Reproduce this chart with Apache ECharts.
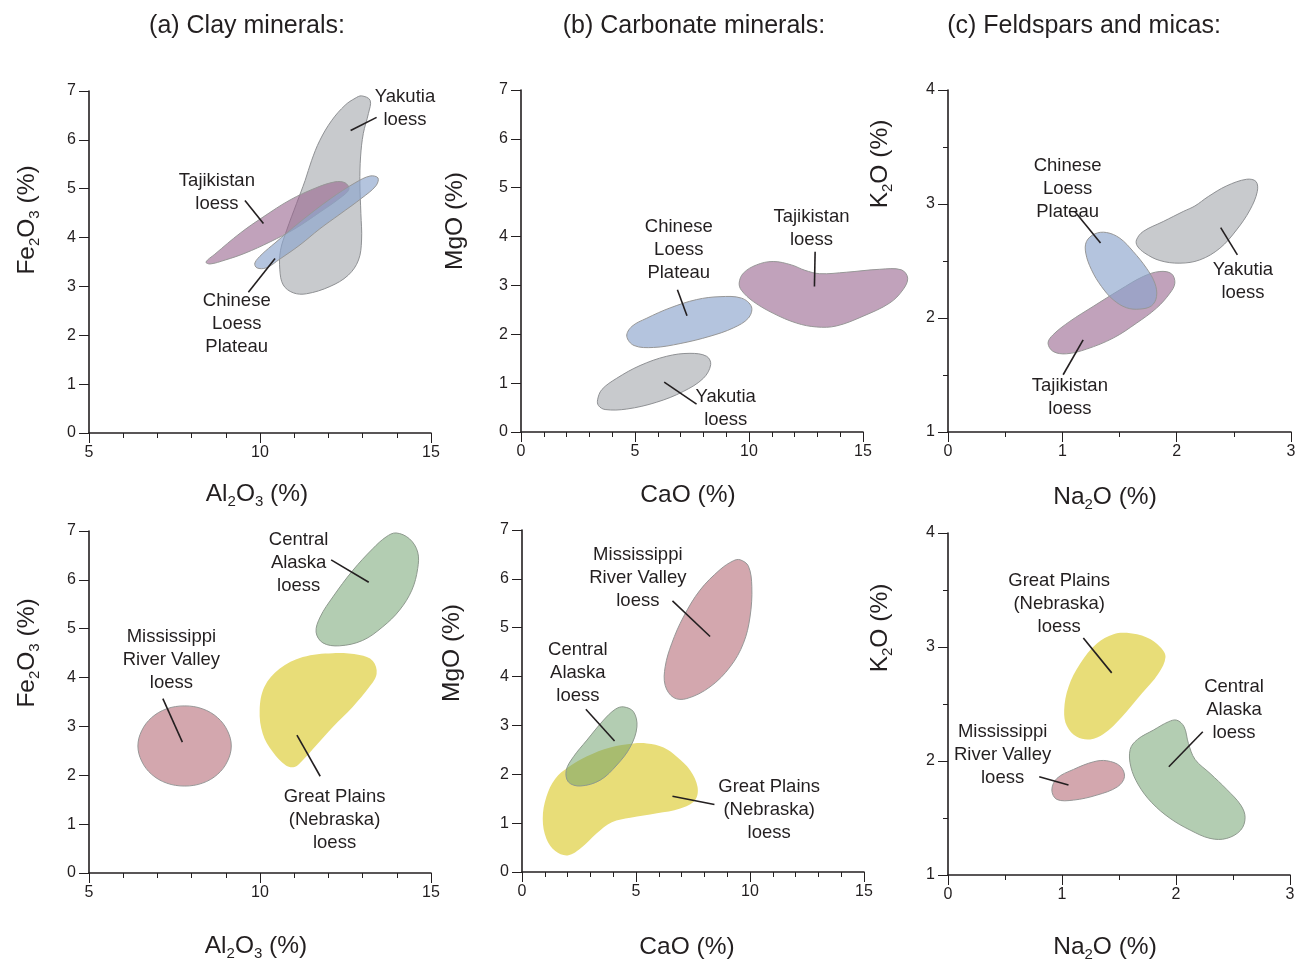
<!DOCTYPE html>
<html>
<head>
<meta charset="utf-8">
<script src="https://cdn.jsdelivr.net/npm/echarts@6/dist/echarts.min.js"></script>
<style>
  html, body { margin: 0; padding: 0; background: #fff; }
  #chart { width: 1297px; height: 962px; }
</style>
</head>
<body>
<div id="chart"></div>
<script>
// Axis ranges: [min, max, interval, minor splits]
const al2o3Axis = [5, 15, 5, 5];
const caoAxis = [0, 15, 5, 5];
const na2oAxis = [0, 3, 1, 2];
const fe2o3Axis = [0, 7, 1, 0];
const mgoAxis = [0, 7, 1, 0];
const k2oAxis = [1, 4, 1, 2];

const panelTitles = ['(a) Clay minerals:', '(b) Carbonate minerals:', '(c) Feldspars and micas:'];

// ---- Asian loess fields (outline points, [x, y] in wt %) ----
// (a) Al2O3 vs Fe2O3
const clayYakutia = [[12.97,6.90],[13.22,6.81],[13.17,6.54],[13.02,6.13],[12.94,5.65],[12.92,5.11],[12.95,4.49],[12.97,3.95],[12.88,3.54],[12.58,3.23],[12.05,3.00],[11.36,2.85],[10.97,2.87],[10.68,3.03],[10.58,3.34],[10.60,3.74],[10.78,4.15],[11.07,4.70],[11.32,5.17],[11.51,5.58],[11.75,5.99],[12.10,6.40],[12.49,6.71],[12.78,6.85]];
const clayTajikistan = [[8.42,3.50],[8.68,3.66],[9.42,4.09],[10.09,4.42],[10.88,4.77],[11.61,5.01],[12.19,5.14],[12.49,5.12],[12.60,4.99],[12.34,4.81],[11.75,4.52],[11.02,4.18],[10.29,3.91],[9.56,3.68],[8.98,3.54],[8.54,3.46]];
const clayChinese = [[9.85,3.48],[10.06,3.66],[10.44,3.89],[11.17,4.32],[12.05,4.79],[12.78,5.12],[13.22,5.26],[13.45,5.22],[13.39,5.06],[12.98,4.81],[12.34,4.48],[11.75,4.18],[11.17,3.85],[10.58,3.56],[10.18,3.38],[9.91,3.38]];
// (b) CaO vs MgO
const carbYakutia = [[3.36,0.66],[3.55,0.87],[4.20,1.10],[5.22,1.36],[6.39,1.55],[7.41,1.61],[8.14,1.55],[8.32,1.38],[8.00,1.10],[7.12,0.83],[5.95,0.61],[4.64,0.47],[3.69,0.46],[3.40,0.54]];
const carbTajikistan = [[9.57,3.05],[9.75,3.25],[10.33,3.42],[11.06,3.49],[11.86,3.42],[12.45,3.31],[13.10,3.24],[14.27,3.27],[15.73,3.33],[16.68,3.32],[16.96,3.15],[16.75,2.91],[16.17,2.64],[15.00,2.37],[13.83,2.17],[12.96,2.15],[12.08,2.23],[11.06,2.43],[10.19,2.67],[9.67,2.90]];
const carbChinese = [[4.64,1.96],[4.86,2.16],[5.52,2.33],[6.54,2.54],[7.70,2.71],[8.73,2.77],[9.67,2.74],[10.11,2.56],[9.97,2.33],[9.31,2.13],[8.29,1.96],[6.98,1.81],[5.81,1.73],[4.96,1.77]];
// (c) Na2O vs K2O
const feldYakutia = [[1.649,2.686],[1.707,2.759],[1.882,2.846],[2.057,2.934],[2.160,2.983],[2.276,3.065],[2.437,3.159],[2.612,3.217],[2.694,3.197],[2.705,3.109],[2.641,2.948],[2.524,2.773],[2.378,2.612],[2.203,2.510],[2.028,2.481],[1.853,2.504],[1.722,2.569],[1.655,2.633]];
const feldTajikistan = [[0.875,1.780],[0.919,1.853],[1.065,1.970],[1.269,2.101],[1.503,2.247],[1.707,2.364],[1.853,2.408],[1.955,2.388],[1.984,2.306],[1.941,2.218],[1.824,2.087],[1.649,1.955],[1.445,1.824],[1.211,1.727],[1.036,1.686],[0.919,1.707]];
const feldChinese = [[1.386,2.750],[1.503,2.700],[1.620,2.583],[1.736,2.437],[1.809,2.306],[1.824,2.189],[1.780,2.107],[1.678,2.078],[1.561,2.090],[1.445,2.160],[1.342,2.277],[1.255,2.423],[1.205,2.569],[1.211,2.671],[1.284,2.738]];

// ---- North American loess fields ----
const clayMississippi = [[9.16,2.60],[9.05,2.29],[8.76,2.02],[8.32,1.84],[7.80,1.78],[7.27,1.84],[6.83,2.02],[6.54,2.29],[6.43,2.60],[6.54,2.91],[6.83,3.18],[7.27,3.36],[7.80,3.42],[8.32,3.36],[8.76,3.18],[9.05,2.91]];
const clayAlaska = [[13.98,6.96],[14.37,6.84],[14.61,6.57],[14.61,6.23],[14.44,5.79],[14.08,5.38],[13.59,5.04],[13.00,4.76],[12.32,4.65],[11.84,4.71],[11.64,4.93],[11.76,5.24],[12.13,5.65],[12.71,6.19],[13.30,6.64],[13.69,6.88]];
const clayGreatPlains = [[12.13,4.50],[12.91,4.46],[13.30,4.34],[13.41,4.08],[13.20,3.81],[12.71,3.40],[12.13,2.99],[11.64,2.61],[11.25,2.31],[11.01,2.17],[10.76,2.20],[10.37,2.48],[10.08,2.85],[9.99,3.33],[10.13,3.81],[10.57,4.18],[11.25,4.42]];
const carbMississippi = [[9.57,6.39],[9.93,6.26],[10.08,5.84],[10.00,5.22],[9.71,4.68],[9.13,4.20],[8.25,3.79],[7.23,3.55],[6.65,3.57],[6.28,3.82],[6.28,4.20],[6.57,4.68],[7.08,5.22],[7.81,5.77],[8.69,6.19],[9.27,6.37]];
const carbAlaska = [[4.45,3.38],[4.89,3.28],[5.04,2.97],[4.75,2.56],[4.16,2.19],[3.43,1.88],[2.56,1.76],[2.04,1.84],[1.94,2.08],[2.26,2.36],[2.85,2.70],[3.58,3.11],[4.09,3.33]];
const carbGreatPlains = [[4.89,2.63],[5.48,2.63],[6.21,2.55],[6.79,2.36],[7.38,2.08],[7.70,1.74],[7.59,1.47],[6.94,1.30],[5.92,1.20],[4.75,1.11],[3.94,1.02],[3.29,0.80],[2.56,0.48],[2.00,0.34],[1.46,0.43],[1.07,0.68],[0.91,1.09],[1.07,1.54],[1.46,1.91],[2.04,2.15],[2.85,2.37],[3.87,2.55]];
const feldMississippi = [[1.393,2.002],[1.510,1.955],[1.548,1.862],[1.487,1.774],[1.306,1.701],[1.101,1.657],[0.955,1.663],[0.911,1.745],[0.955,1.847],[1.101,1.926],[1.277,1.993]];
const feldAlaska = [[2.007,2.358],[2.071,2.300],[2.109,2.154],[2.167,2.014],[2.299,1.891],[2.445,1.751],[2.568,1.613],[2.606,1.505],[2.568,1.394],[2.445,1.321],[2.299,1.321],[2.124,1.394],[1.948,1.497],[1.788,1.634],[1.671,1.789],[1.604,1.949],[1.598,2.101],[1.662,2.189],[1.802,2.271],[1.934,2.344]];
const feldGreatPlains = [[1.569,3.124],[1.744,3.083],[1.861,3.001],[1.908,2.913],[1.846,2.767],[1.700,2.592],[1.525,2.387],[1.364,2.236],[1.247,2.189],[1.130,2.212],[1.043,2.306],[1.019,2.446],[1.057,2.650],[1.160,2.855],[1.306,3.030],[1.452,3.112]];

// ---- Field names with leader lines (data units) ----
const asiaClayLabels = [
  { text: 'Yakutia\nloess', at: [14.24, 6.65], leader: [[13.41, 6.46], [12.65, 6.19]] },
  { text: 'Tajikistan\nloess', at: [8.74, 4.93], leader: [[9.56, 4.76], [10.10, 4.29]] },
  { text: 'Chinese\nLoess\nPlateau', at: [9.32, 2.24], leader: [[9.66, 2.88], [10.44, 3.57]] }
];
const asiaCarbLabels = [
  { text: 'Chinese\nLoess\nPlateau', at: [6.92, 3.72], leader: [[6.86, 2.91], [7.28, 2.38]] },
  { text: 'Tajikistan\nloess', at: [12.74, 4.17], leader: [[12.90, 3.69], [12.87, 2.98]] },
  { text: 'Yakutia\nloess', at: [8.98, 0.49], leader: [[6.28, 1.02], [7.70, 0.57]] }
];
const asiaFeldLabels = [
  { text: 'Chinese\nLoess\nPlateau', at: [1.046, 3.13], leader: [[1.109, 2.934], [1.334, 2.657]] },
  { text: 'Yakutia\nloess', at: [2.58, 2.32], leader: [[2.385, 2.793], [2.531, 2.554]] },
  { text: 'Tajikistan\nloess', at: [1.066, 1.30], leader: [[1.182, 1.809], [1.007, 1.502]] }
];
const naClayLabels = [
  { text: 'Central\nAlaska\nloess', at: [11.13, 6.34], leader: [[12.08, 6.41], [13.18, 5.95]] },
  { text: 'Mississippi\nRiver Valley\nloess', at: [7.41, 4.37], leader: [[7.16, 3.57], [7.73, 2.68]] },
  { text: 'Great Plains\n(Nebraska)\nloess', at: [12.18, 1.08], leader: [[11.08, 2.82], [11.76, 1.98]] }
];
const naCarbLabels = [
  { text: 'Mississippi\nRiver Valley\nloess', at: [5.08, 6.02], leader: [[6.60, 5.55], [8.25, 4.82]] },
  { text: 'Central\nAlaska\nloess', at: [2.45, 4.07], leader: [[2.80, 3.33], [4.06, 2.68]] },
  { text: 'Great Plains\n(Nebraska)\nloess', at: [10.84, 1.28], leader: [[6.60, 1.55], [8.44, 1.38]] }
];
const naFeldLabels = [
  { text: 'Great Plains\n(Nebraska)\nloess', at: [0.975, 3.375], leader: [[1.187, 3.08], [1.436, 2.773]] },
  { text: 'Central\nAlaska\nloess', at: [2.509, 2.446], leader: [[2.235, 2.256], [1.937, 1.949]] },
  { text: 'Mississippi\nRiver Valley\nloess', at: [0.479, 2.052], leader: [[0.80, 1.862], [1.057, 1.789]] }
];

// ---- Styling ----
const FONT = '"Liberation Sans", Arial, Helvetica, sans-serif';
const INK = '#231f20';
const EDGE = '#979797';
const STYLE = {
  yakutia:     { fill: '#c8cacd', stroke: '#8f9194' },
  tajikistan:  { fill: 'rgba(152,100,142,0.6)', stroke: EDGE },
  chinese:     { fill: 'rgba(140,165,205,0.65)', stroke: EDGE },
  mississippi: { fill: '#d3a7ae', stroke: EDGE },
  alaska:      { fill: 'rgba(103,155,101,0.5)', stroke: '#8e9a8e' },
  greatPlains: { fill: '#e8dd78', stroke: null }
};

const grids = [
  { left: 89,  top: 91,  width: 342, height: 342 },
  { left: 521, top: 90,  width: 342, height: 342 },
  { left: 948, top: 90,  width: 343, height: 342 },
  { left: 89,  top: 531, width: 342, height: 342 },
  { left: 522, top: 530, width: 342, height: 342 },
  { left: 948, top: 533, width: 342, height: 342 }
].map(g => Object.assign({ containLabel: false, outerBoundsMode: 'none' }, g));

function axis(gridIndex, range, isY) {
  return {
    type: 'value', gridIndex,
    min: range[0], max: range[1], interval: range[2],
    axisLine: { show: true, onZero: false, lineStyle: { color: INK, width: 1.6 } },
    axisTick: { show: true, length: 10, lineStyle: { color: INK, width: 1 } },
    minorTick: { show: range[3] > 0, splitNumber: range[3] || 5, length: 5, lineStyle: { color: INK, width: 1 } },
    splitLine: { show: false },
    minorSplitLine: { show: false },
    axisLabel: { color: INK, fontSize: 16, fontFamily: FONT, margin: isY ? 13 : 12 }
  };
}

const xRanges = [al2o3Axis, caoAxis, na2oAxis, al2o3Axis, caoAxis, na2oAxis];
const yRanges = [fe2o3Axis, mgoAxis, k2oAxis, fe2o3Axis, mgoAxis, k2oAxis];

function field(gridIndex, pts, st) {
  return {
    type: 'custom', xAxisIndex: gridIndex, yAxisIndex: gridIndex,
    clip: false, silent: true, animation: false,
    data: pts,
    renderItem(params, api) {
      if (params.dataIndex !== 0) return null;
      const points = pts.map(p => api.coord(p));
      return {
        type: 'polygon',
        shape: { points, smooth: 0.36 },
        style: { fill: st.fill, stroke: st.stroke || 'none', lineWidth: st.stroke ? 1 : 0 }
      };
    }
  };
}

function labels(gridIndex, list) {
  return {
    type: 'custom', xAxisIndex: gridIndex, yAxisIndex: gridIndex,
    clip: false, silent: true, animation: false, z: 5,
    data: list.map(l => l.at),
    renderItem(params, api) {
      const l = list[params.dataIndex];
      const c = api.coord(l.at);
      const a = api.coord(l.leader[0]);
      const b = api.coord(l.leader[1]);
      return {
        type: 'group',
        children: [
          { type: 'line', shape: { x1: a[0], y1: a[1], x2: b[0], y2: b[1] },
            style: { stroke: INK, lineWidth: 1.6 } },
          { type: 'text', x: c[0], y: c[1],
            style: { text: l.text, fill: INK, font: '18.5px ' + FONT,
                     textAlign: 'center', textVerticalAlign: 'middle', lineHeight: 23 } }
        ]
      };
    }
  };
}

const series = [
  field(0, clayYakutia, STYLE.yakutia),
  field(0, clayTajikistan, STYLE.tajikistan),
  field(0, clayChinese, STYLE.chinese),
  labels(0, asiaClayLabels),
  field(1, carbYakutia, STYLE.yakutia),
  field(1, carbTajikistan, STYLE.tajikistan),
  field(1, carbChinese, STYLE.chinese),
  labels(1, asiaCarbLabels),
  field(2, feldYakutia, STYLE.yakutia),
  field(2, feldTajikistan, STYLE.tajikistan),
  field(2, feldChinese, STYLE.chinese),
  labels(2, asiaFeldLabels),
  field(3, clayMississippi, STYLE.mississippi),
  field(3, clayAlaska, STYLE.alaska),
  field(3, clayGreatPlains, STYLE.greatPlains),
  labels(3, naClayLabels),
  field(4, carbMississippi, STYLE.mississippi),
  field(4, carbGreatPlains, STYLE.greatPlains),
  field(4, carbAlaska, STYLE.alaska),
  labels(4, naCarbLabels),
  field(5, feldMississippi, STYLE.mississippi),
  field(5, feldAlaska, STYLE.alaska),
  field(5, feldGreatPlains, STYLE.greatPlains),
  labels(5, naFeldLabels)
];

// Axis titles with subscripted formulas
const RICH = {
  m: { fontSize: 24.5, lineHeight: 30, fontFamily: FONT, color: INK },
  s: { fontSize: 15, lineHeight: 10, verticalAlign: 'bottom', fontFamily: FONT, color: INK }
};
const AL2O3 = '{m|Al}{s|2}{m|O}{s|3}{m| (%)}';
const FE2O3 = '{m|Fe}{s|2}{m|O}{s|3}{m| (%)}';
const CAO = '{m|CaO (%)}';
const MGO = '{m|MgO (%)}';
const NA2O = '{m|Na}{s|2}{m|O (%)}';
const K2O = '{m|K}{s|2}{m|O (%)}';

function axisTitle(text, x, y, vertical) {
  return {
    type: 'text', x, y, rotation: vertical ? Math.PI / 2 : 0, silent: true,
    style: { text, rich: RICH, fill: INK, textAlign: 'center', textVerticalAlign: 'middle' }
  };
}
function panelTitle(text, x) {
  return {
    type: 'text', x, y: 26, silent: true,
    style: { text, fill: INK, font: '25px ' + FONT, textAlign: 'center', textVerticalAlign: 'middle' }
  };
}

const graphic = [
  panelTitle(panelTitles[0], 247),
  panelTitle(panelTitles[1], 694),
  panelTitle(panelTitles[2], 1084),
  axisTitle(AL2O3, 257, 494), axisTitle(CAO, 688, 495), axisTitle(NA2O, 1105, 497),
  axisTitle(AL2O3, 256, 946), axisTitle(CAO, 687, 947), axisTitle(NA2O, 1105, 947),
  axisTitle(FE2O3, 27, 220, true), axisTitle(MGO, 455, 221, true), axisTitle(K2O, 880, 164, true),
  axisTitle(FE2O3, 27, 653, true), axisTitle(MGO, 452, 653, true), axisTitle(K2O, 880, 628, true)
];

const chart = echarts.init(document.getElementById('chart'), null, { renderer: 'canvas' });
chart.setOption({
  backgroundColor: '#ffffff',
  animation: false,
  grid: grids,
  xAxis: xRanges.map((r, i) => axis(i, r, false)),
  yAxis: yRanges.map((r, i) => axis(i, r, true)),
  series,
  graphic
});
</script>
</body>
</html>
